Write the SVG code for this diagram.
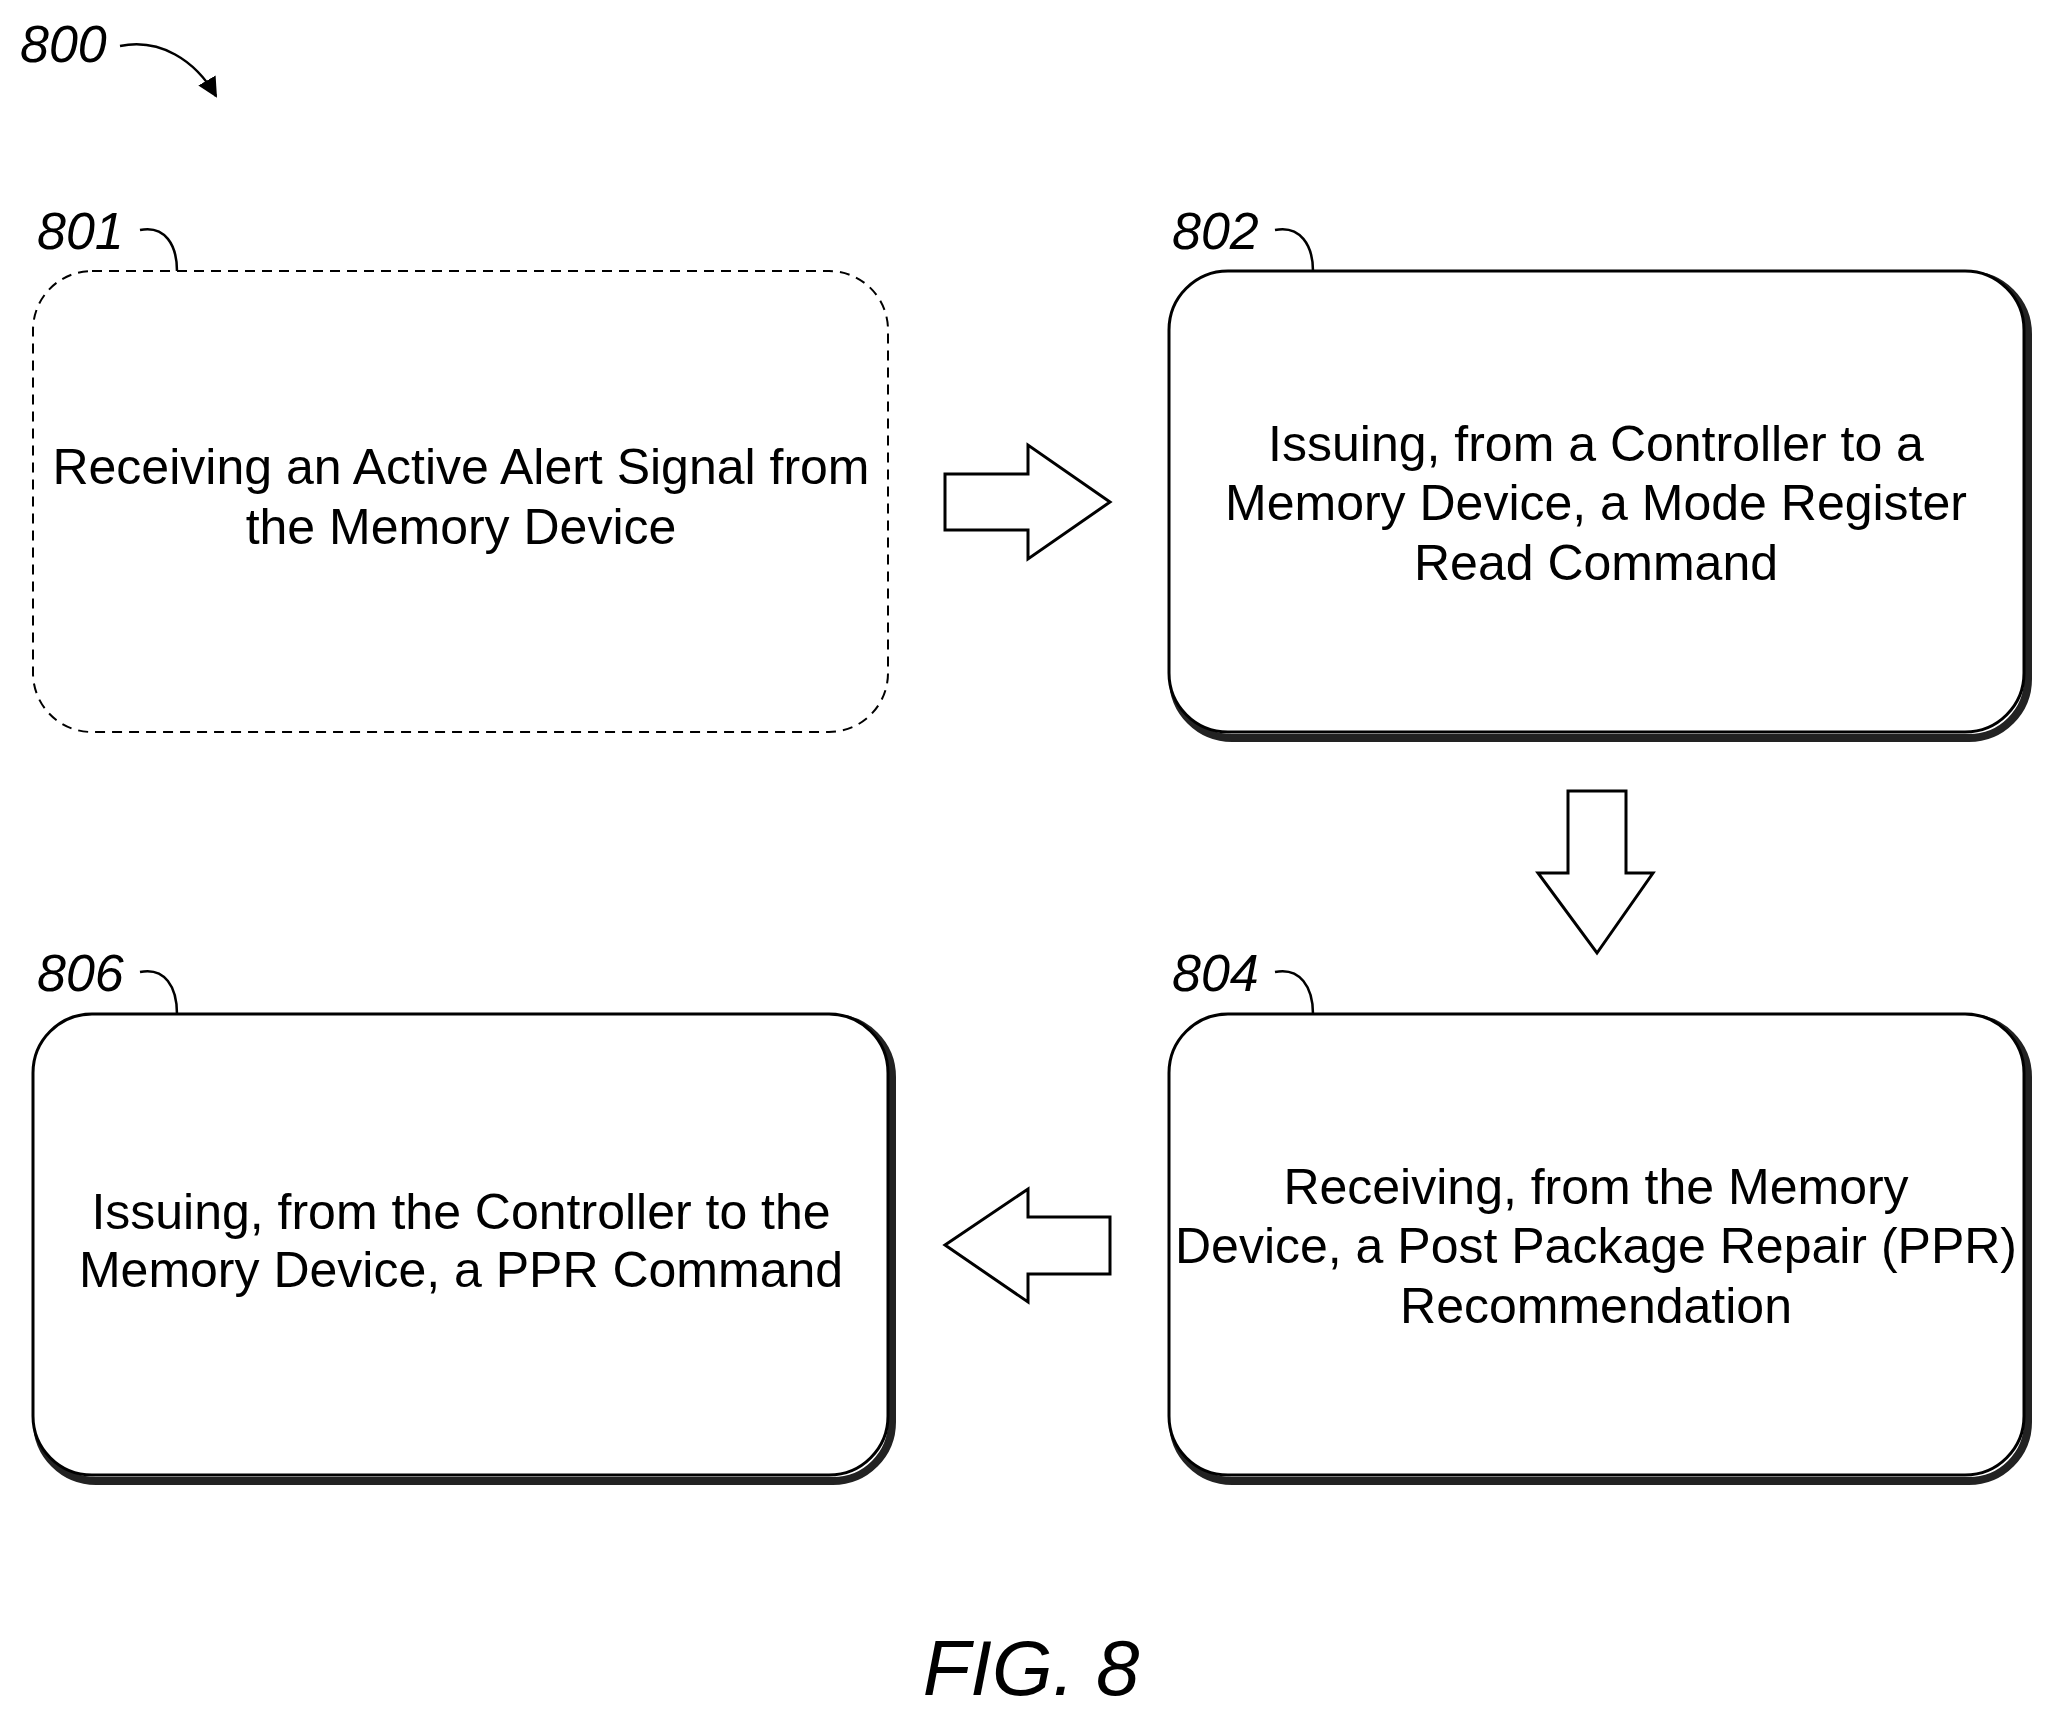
<svg xmlns="http://www.w3.org/2000/svg" width="2052" height="1723" viewBox="0 0 2052 1723">
<style>
.box{fill:#fff;stroke:#000;stroke-width:3}
.sh{fill:none;stroke:#222;stroke-width:8}
.t{font-family:"Liberation Sans",Arial,sans-serif;font-size:50px;text-anchor:middle;fill:#000}
.lbl{font-family:"Liberation Sans",Arial,sans-serif;font-style:italic;font-size:52px;fill:#000}
.ln{fill:none;stroke:#000;stroke-width:2.5}
.ar{fill:#fff;stroke:#000;stroke-width:3;stroke-linejoin:miter}
</style>
<defs><marker id="m" viewBox="0 0 10 10" refX="9" refY="5" markerWidth="8" markerHeight="8" orient="auto"><path d="M0,0L10,5L0,10z"/></marker></defs>
<text class="lbl" x="20" y="62">800</text>
<path class="ln" d="M120,46 C160,38 195,60 216,96" marker-end="url(#m)"/>
<g id="n801">
<text class="lbl" x="37" y="249">801</text><path class="ln" d="M140,230 C165,225 177,245 177,271"/>
<rect x="33" y="271" width="855" height="461" rx="59" fill="#fff" stroke="#000" stroke-width="2" stroke-dasharray="10,7"/>
<text class="t" x="461" y="484">Receiving an Active Alert Signal from</text>
<text class="t" x="461" y="544">the Memory Device</text>
</g>
<g id="n802">
<text class="lbl" x="1172" y="249">802</text><path class="ln" d="M1275,230 C1300,225 1313,245 1313,271"/>
<rect class="sh" x="1173" y="275" width="855" height="463" rx="59"/>
<rect class="box" x="1169" y="271" width="855" height="461" rx="59"/>
<text class="t" x="1596" y="461">Issuing, from a Controller to a</text>
<text class="t" x="1596" y="520">Memory Device, a Mode Register</text>
<text class="t" x="1596" y="580">Read Command</text>
</g>
<g id="n804">
<text class="lbl" x="1172" y="991">804</text><path class="ln" d="M1275,972 C1300,967 1313,987 1313,1014"/>
<rect class="sh" x="1173" y="1018" width="855" height="463" rx="59"/>
<rect class="box" x="1169" y="1014" width="855" height="461" rx="59"/>
<text class="t" x="1596" y="1204">Receiving, from the Memory</text>
<text class="t" x="1596" y="1263">Device, a Post Package Repair (PPR)</text>
<text class="t" x="1596" y="1323">Recommendation</text>
</g>
<g id="n806">
<text class="lbl" x="37" y="991">806</text><path class="ln" d="M140,972 C165,967 177,987 177,1014"/>
<rect class="sh" x="37" y="1018" width="855" height="463" rx="59"/>
<rect class="box" x="33" y="1014" width="855" height="461" rx="59"/>
<text class="t" x="461" y="1229">Issuing, from the Controller to the</text>
<text class="t" x="461" y="1287">Memory Device, a PPR Command</text>
</g>
<g id="connectors">
<path class="ar" d="M945,474 H1028 V445 L1110,502 L1028,559 V530 H945 Z"/>
<path class="ar" d="M1568,791 H1626 V873 H1653 L1597,953 L1538,873 H1568 Z"/>
<path class="ar" d="M1110,1217 H1028 V1189 L945,1245 L1028,1302 V1274 H1110 Z"/>
</g>
<text x="1031" y="1695" font-family="Liberation Sans,Arial,sans-serif" font-style="italic" font-size="78" text-anchor="middle">FIG.  8</text>
</svg>
